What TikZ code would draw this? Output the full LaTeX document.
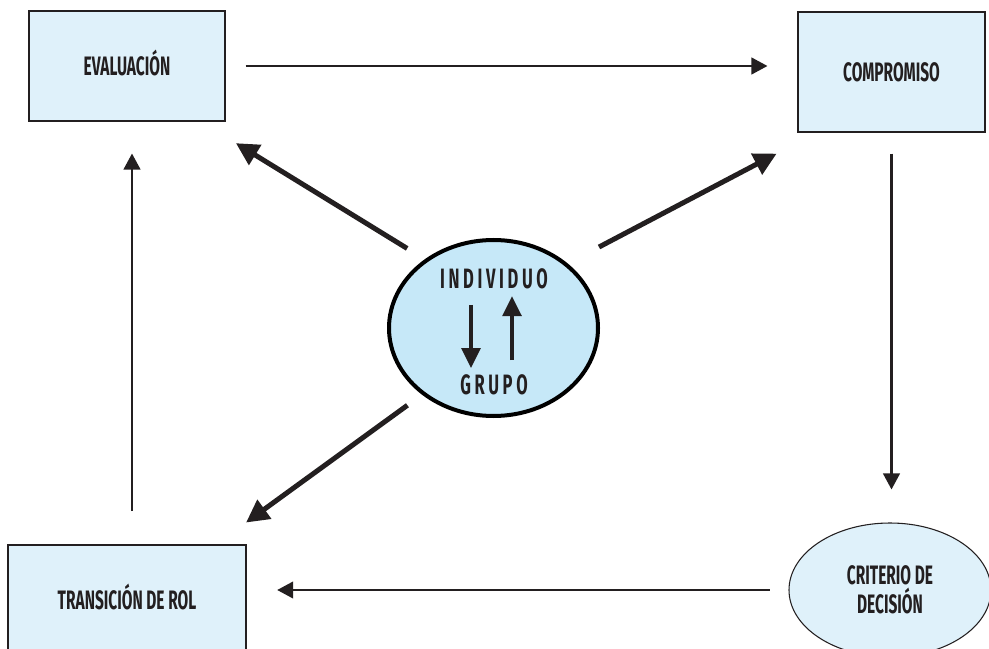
\documentclass[tikz,border=0pt]{standalone}
\usepackage{fontspec}
\setmainfont{Fira Sans}[FakeStretch=0.58]
\newfontfamily\spacedfont{Fira Sans}[FakeStretch=0.59, LetterSpace=13]
\usetikzlibrary{arrows.meta, shapes.geometric}
\definecolor{boxblue}{RGB}{223,241,250}
\definecolor{coreblue}{RGB}{198,232,248}
\definecolor{ink}{RGB}{35,31,32}

\begin{document}
\begin{tikzpicture}[
  x=0.75pt, y=-0.75pt,
  stagebox/.style={rectangle, draw=ink, line width=0.8pt, fill=boxblue, inner sep=0pt, text=ink, text height=13.8pt, text depth=0pt, font=\fontsize{20}{21.75}\selectfont\bfseries},
  decision/.style={ellipse, draw=ink, line width=0.8pt, fill=boxblue, inner sep=0pt, text=ink, align=center, font=\fontsize{20}{21.75}\selectfont\bfseries},
  core/.style={ellipse, draw=black, line width=3pt, fill=coreblue, inner sep=0pt, minimum width=156.75pt, minimum height=132pt},
  corelabel/.style={inner sep=0pt, text=ink, font=\spacedfont\fontsize{21}{22}\selectfont\bfseries},
  arr/.style={-{Triangle[length=12pt, width=12.5pt]}, line width=1.6pt, color=ink},
  bigarr/.style={-{Triangle[length=17pt, width=17pt]}, line width=3.75pt, color=ink},
  midarr/.style={-{Triangle[length=15pt, width=14pt]}, line width=3pt, color=ink}
]
\useasboundingbox (0,0) rectangle (989,649);

\node[stagebox, minimum width=147pt, minimum height=82.5pt] (eval) at (127,66) {EVALUACIÓN};
\node[stagebox, minimum width=140.25pt, minimum height=90pt] (comp) at (891.5,72) {COMPROMISO};
\node[stagebox, minimum width=178.5pt, minimum height=82.5pt] (trans) at (127,600) {TRANSICIÓN DE ROL};
\node[decision, minimum width=151.5pt, minimum height=100.5pt] (crit) at (890,590) {CRITERIO DE\\DECISIÓN};

\node[core] (nucleo) at (493.5,328) {};
\node[corelabel] (indiv) at (494,279) {INDIVIDUO};
\node[corelabel] (grupo) at (494,384.5) {GRUPO};

\draw[arr, shorten <=15pt, shorten >=22.5pt] (eval.east) -- (eval.east -| comp.west);
\draw[arr, shorten <=15.75pt, shorten >=24.75pt] (comp.south) -- (comp.south |- crit.north);
\draw[arr, shorten <=14pt, shorten >=23pt] (crit.west) -- (crit.west -| trans.east);
\draw[arr, shorten <=25pt, shorten >=24pt] ([xshift=3.75pt]trans.north) -- ([xshift=3.75pt]eval.south);

\draw[bigarr, shorten <=15.5pt, shorten >=31pt] (nucleo.135.5) -- (eval.-37.2);
\draw[bigarr, shorten <=26.5pt, shorten >=34pt] (nucleo.41.2) -- (comp.219.2);
\draw[bigarr, shorten <=13.5pt, shorten >=28pt] (nucleo.223.1) -- (trans.32.1);

\draw[midarr, shorten <=11.5pt, shorten >=4.5pt] ([xshift=-17.25pt]indiv.south) -- ([xshift=-17.25pt]grupo.north);
\draw[midarr, shorten <=10.5pt, shorten >=5pt] ([xshift=13.5pt]grupo.north) -- ([xshift=13.5pt]indiv.south);
\end{tikzpicture}
\end{document}
